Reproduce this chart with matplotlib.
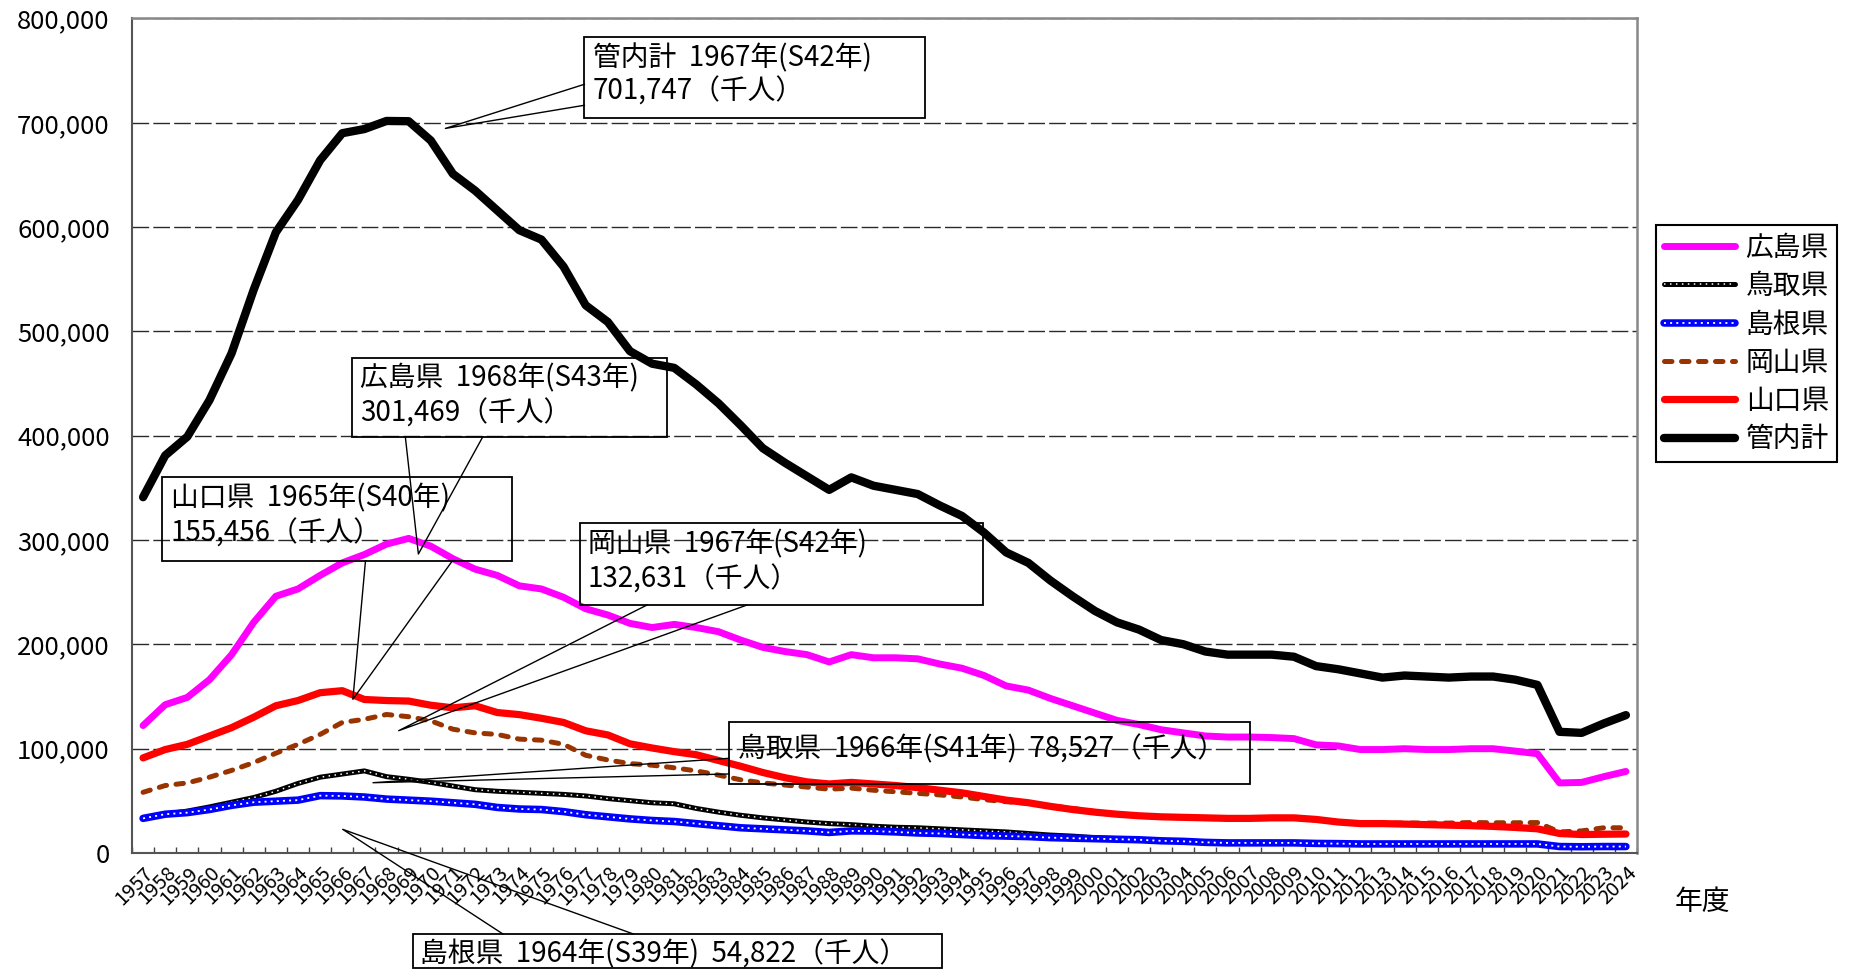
import matplotlib
matplotlib.use("Agg")
import matplotlib.pyplot as plt
from matplotlib.patches import Rectangle
from matplotlib.ticker import FuncFormatter, FixedLocator

plt.rcParams['font.family'] = ['Noto Sans CJK JP', 'DejaVu Sans']

# 年度
years = list(range(1957, 2025))

# 各県の値（千人）
hiroshima = [122000, 142000, 149000, 166000, 190000, 221000, 246000, 253000, 266000, 278000,
             286000, 296000, 301469, 294000, 282000, 272000, 266000, 256000, 253000, 245000,
             234000, 228000, 220000, 216000, 219000, 216000, 212000, 204000, 197000, 193000,
             190000, 183000, 190000, 187000, 187000, 186000, 181000, 177000, 170000, 160000,
             156000, 148000, 141000, 134000, 127000, 123000, 118000, 115000, 112000, 111000,
             111000, 110500, 109500, 103500, 102500, 99000, 99000, 99800, 99000, 99000,
             99800, 99800, 97500, 95000, 67000, 67500, 73000, 78000]
tottori = [33000, 37000, 40000, 44000, 48500, 53000, 59000, 66500, 72500, 75500,
           78527, 73000, 70500, 67500, 64000, 60500, 59000, 58000, 57000, 56000,
           54500, 52000, 50000, 48000, 47000, 42500, 39000, 36000, 33500, 31500,
           29500, 28000, 27000, 25500, 24500, 24000, 23000, 22000, 21000, 20000,
           18500, 17000, 16000, 14500, 13500, 12500, 12000, 11000, 10500, 10000,
           10000, 10000, 9500, 9000, 9000, 8500, 8500, 8500, 8500, 8500,
           8500, 8500, 8000, 8000, 6000, 6000, 6000, 6500]
shimane = [33000, 37000, 38500, 41500, 45500, 48500, 49500, 50500, 54822, 54500,
           53500, 51500, 50500, 49500, 48000, 46500, 43500, 42000, 41500, 39500,
           36500, 34500, 32500, 31000, 30000, 28000, 26000, 24000, 23000, 22000,
           21000, 19500, 21000, 20800, 20000, 19000, 18500, 17500, 16500, 16000,
           15500, 14500, 14000, 13500, 13000, 12500, 11500, 11000, 10000, 9500,
           9500, 9500, 9500, 9000, 8800, 8500, 8500, 8500, 8500, 8500,
           8500, 8500, 8500, 8500, 6000, 5800, 6000, 6000]
okayama = [58000, 64500, 67000, 72500, 79000, 86500, 95500, 104000, 113500, 125000,
           128000, 132631, 130500, 126500, 118500, 115000, 113500, 109000, 108000, 104000,
           93500, 89000, 85500, 84000, 81500, 78500, 74500, 70000, 67000, 65000,
           63000, 61000, 62000, 60000, 58500, 57000, 55500, 53500, 51000, 49000,
           47500, 45000, 42500, 39500, 37000, 35000, 34000, 33500, 33000, 32500,
           32500, 33000, 33000, 31500, 29500, 28500, 28500, 28500, 28500, 28500,
           29000, 28800, 28800, 29000, 20000, 21000, 24000, 24000]
yamaguchi = [91000, 99000, 104000, 112000, 120000, 130000, 141000, 146000, 153500, 155456,
             147000, 146000, 145500, 141500, 139000, 141000, 134500, 132500, 129000, 125000,
             117000, 113000, 104500, 100500, 97000, 94000, 88500, 83000, 77000, 72000,
             68000, 66000, 67500, 66000, 64500, 62500, 60000, 57500, 54000, 50500,
             48000, 44500, 41500, 39000, 37000, 35500, 34500, 34000, 33500, 33000,
             33000, 33500, 33500, 32000, 29500, 28000, 28000, 27500, 27000, 26500,
             26000, 25300, 24300, 23000, 18500, 17500, 17800, 18000]
total = [341000, 381000, 399000, 434000, 479000, 540000, 595000, 626000, 664000, 690000,
         694000, 701747, 701500, 683000, 651000, 635000, 616000, 597000, 588000, 562000,
         525000, 509000, 481000, 469000, 465000, 449000, 431000, 410000, 388000, 374000,
         361000, 348000, 360000, 352000, 348000, 344000, 333000, 323000, 307000, 288000,
         278000, 261000, 246000, 232000, 221000, 214000, 204000, 200000, 193000, 190000,
         190000, 190000, 188000, 179000, 176000, 172000, 168000, 170000, 169000, 168000,
         169000, 169000, 166000, 161000, 116000, 115000, 124000, 132000]

labels = ['広島県', '鳥取県', '島根県', '岡山県', '山口県', '管内計']

fig = plt.figure(figsize=(18.56, 9.73), dpi=100)
ax = fig.add_axes([0.07112, 0.12354, 0.81088, 0.85745])

x = list(range(len(years)))

l_hiro, = ax.plot(x, hiroshima, color='#ff00ff', lw=5.0, solid_capstyle='round', solid_joinstyle='round')
t_base, = ax.plot(x, tottori, color='black', lw=3.6, solid_capstyle='round', solid_joinstyle='round')
t_dot, = ax.plot(x, tottori, color='white', lw=1.1, linestyle=(0, (1, 2.9)))
s_base, = ax.plot(x, shimane, color='#0000ff', lw=5.4, solid_capstyle='round', solid_joinstyle='round')
s_dot, = ax.plot(x, shimane, color='white', lw=1.3, linestyle=(0, (1.1, 2.3)))
l_oka, = ax.plot(x, okayama, color='#993300', lw=3.6, linestyle=(0, (1.5, 1.9)),
                 dash_capstyle='round', dash_joinstyle='round')
l_yama, = ax.plot(x, yamaguchi, color='#ff0000', lw=5.2, solid_capstyle='round', solid_joinstyle='round')
l_total, = ax.plot(x, total, color='black', lw=6.0, solid_capstyle='round', solid_joinstyle='round')

ax.set_xlim(-0.5, len(years) - 0.5)
ax.set_ylim(0, 800000)

# 目盛り
ax.set_yticks(range(0, 800001, 100000))
ax.yaxis.set_major_formatter(FuncFormatter(lambda v, p: f"{int(v):,}"))
ax.tick_params(axis='y', length=0, pad=16, labelsize=18.5)
ax.set_xticks(x)
ax.set_xticklabels([str(y) for y in years], rotation=45, ha='right', va='top',
                   rotation_mode='anchor', fontsize=14.5)
ax.tick_params(axis='x', which='major', length=0, pad=7)
ax.xaxis.set_minor_locator(FixedLocator([i - 0.5 for i in range(len(years) + 1)]))
ax.tick_params(axis='x', which='minor', direction='in', length=4, width=1, color='#444444')

ax.yaxis.grid(True, color='#2a2a2a', lw=1.0, linestyle=(0, (12, 3)))
ax.set_axisbelow(True)

for side in ['left', 'bottom']:
    ax.spines[side].set_color('#555555')
    ax.spines[side].set_linewidth(1.5)
for side in ['top', 'right']:
    ax.spines[side].set_color('#888888')
    ax.spines[side].set_linewidth(1.8)

fig.text(0.917, 0.073, '年度', fontsize=20, ha='center', va='center')

leg = ax.legend([l_hiro, (t_base, t_dot), (s_base, s_dot), l_oka, l_yama, l_total], labels,
                loc='upper left', bbox_to_anchor=(0.8922, 0.7688), bbox_transform=fig.transFigure,
                frameon=True, fancybox=False, edgecolor='black', framealpha=1, fontsize=20,
                handlelength=2.55, handletextpad=0.4, labelspacing=0.3, borderpad=0.28,
                borderaxespad=0)
leg.get_frame().set_linewidth(1.5)


# 吹き出し（枠・引出線・文字）
def callout(box, rows, tip, base1, base2, fs=20):
    x0, x1, y0, y1 = box
    ax.add_patch(Rectangle((x0, y0), x1 - x0, y1 - y0, fill=False, ec='black', lw=1.3,
                           clip_on=False, zorder=10))
    ax.plot([base1[0], tip[0], base2[0]], [base1[1], tip[1], base2[1]], color='black',
            lw=1.0, clip_on=False, zorder=10)
    for tx, ty, s in rows:
        ax.text(tx, ty, s, fontsize=fs, ha='left', va='center', zorder=11, clip_on=False)


callout((19.94, 35.31, 704800, 782500),
        [(20.33, 762000, '管内計  1967年(S42年)'), (20.33, 730000, f'{max(total):,}（千人）')],
        (13.66, 694600), (19.94, 736900), (19.94, 716800))
callout((9.46, 23.67, 398900, 474700),
        [(9.80, 455000, '広島県  1968年(S43年)'), (9.80, 421500, f'{max(hiroshima):,}（千人）')],
        (12.44, 286500), (11.85, 398900), (15.35, 398900))
callout((0.854, 16.65, 280100, 360600),
        [(1.24, 340000, '山口県  1965年(S40年)'), (1.24, 306500, f'{max(yamaguchi):,}（千人）')],
        (9.48, 147200), (10.05, 280100), (13.98, 280100))
callout((19.76, 37.94, 237600, 316500),
        [(20.1, 295300, '岡山県  1967年(S42年)'), (20.1, 261800, f'{max(okayama):,}（千人）')],
        (11.55, 117100), (22.77, 237600), (27.29, 237600))
callout((26.47, 50.02, 66000, 125700),
        [(26.88, 99500, f'鳥取県  1966年(S41年)  {max(tottori):,}（千人）')],
        (10.39, 67200), (26.47, 90600), (26.47, 75600))
callout((12.21, 36.08, -110700, -77900),
        [(12.51, -97000, f'島根県  1964年(S39年)  {max(shimane):,}（千人）')],
        (9.02, 22500), (16.26, -77900), (22.16, -77900))

fig.savefig('out.png', dpi=100)
